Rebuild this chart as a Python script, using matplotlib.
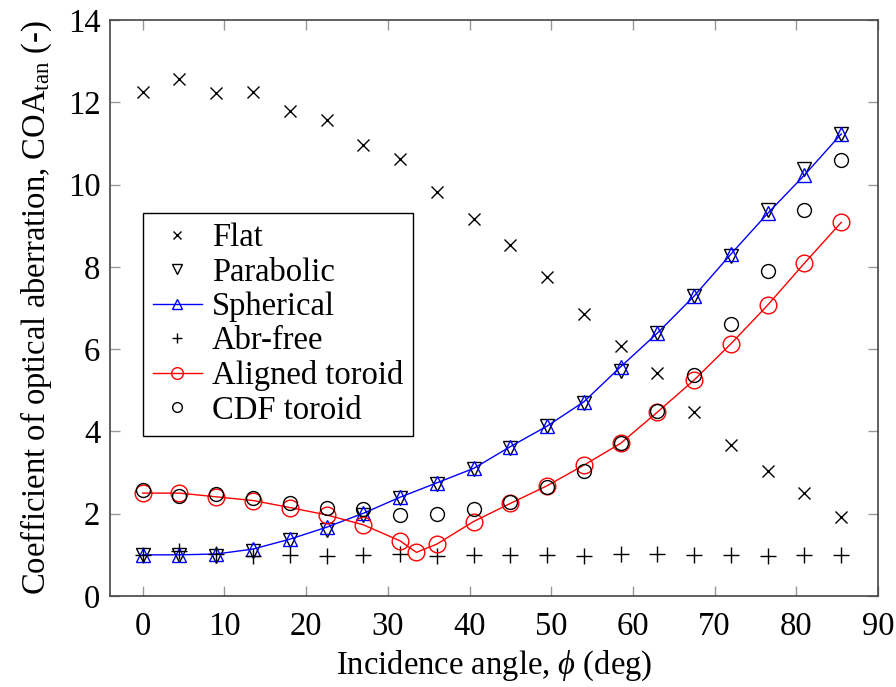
import matplotlib
matplotlib.use("Agg")
import matplotlib.pyplot as plt

plt.rcParams['font.family'] = ['Liberation Serif', 'DejaVu Serif']
plt.rcParams['mathtext.fontset'] = 'custom'
plt.rcParams['mathtext.rm'] = 'Liberation Serif'
plt.rcParams['mathtext.it'] = 'Liberation Serif:italic'

# Incidence angles (deg)
angle = [0, 4.5, 9, 13.5, 18, 22.5, 27, 31.5, 36, 40.5, 45, 49.5,
         54, 58.5, 63, 67.5, 72, 76.5, 81, 85.5]
angle_aligned = [0, 4.5, 9, 13.5, 18, 22.5, 27, 31.5, 33.5, 36, 40.5, 45,
                 49.5, 54, 58.5, 63, 67.5, 72, 76.5, 81, 85.5]

flat = [12.24, 12.56, 12.23, 12.25, 11.80, 11.57, 10.96, 10.61, 9.83, 9.16,
        8.53, 7.75, 6.85, 6.08, 5.41, 4.48, 3.67, 3.03, 2.50, 1.93]
parabolic = [1.00, 1.00, 0.98, 1.10, 1.35, 1.60, 1.97, 2.38, 2.73, 3.08,
             3.60, 4.12, 4.70, 5.47, 6.40, 7.30, 8.27, 9.37, 10.39, 11.23]
spherical = [1.00, 1.00, 1.02, 1.14, 1.38, 1.67, 2.01, 2.40, 2.75, 3.10,
             3.63, 4.13, 4.72, 5.57, 6.39, 7.29, 8.31, 9.30, 10.23, 11.23]
abr_free = [1.00, 1.10, 1.02, 0.96, 0.99, 0.96, 1.00, 1.01, 0.97, 1.00,
            1.00, 0.99, 0.96, 1.03, 1.03, 1.00, 0.99, 0.96, 1.00, 0.99]
aligned_toroid = [2.50, 2.50, 2.41, 2.32, 2.15, 1.97, 1.73, 1.34, 1.06, 1.26,
                  1.81, 2.25, 2.68, 3.18, 3.71, 4.47, 5.25, 6.13, 7.07, 8.09, 9.08]
cdf_toroid = [2.58, 2.43, 2.47, 2.37, 2.27, 2.15, 2.11, 1.97, 1.99, 2.11,
              2.28, 2.64, 3.04, 3.73, 4.50, 5.37, 6.61, 7.90, 9.38, 10.60]

xticks = [0, 10, 20, 30, 40, 50, 60, 70, 80, 90]
yticks = [0, 2, 4, 6, 8, 10, 12, 14]

fig = plt.figure(figsize=(8.96, 6.87), dpi=100)
ax = fig.add_axes([0.1228, 0.1325, 0.8571, 0.8384])

fs = 23.5
ax.plot(angle, flat, linestyle='none', marker='x', color='black',
        markersize=8, markeredgewidth=1.0, label='Flat')
ax.plot(angle, parabolic, linestyle='none', marker='v', color='black',
        markerfacecolor='none', markersize=10, markeredgewidth=1.0,
        label='Parabolic')
ax.plot(angle, spherical, linestyle='-', linewidth=1.0, marker='^',
        color='blue', markerfacecolor='none', markersize=10,
        markeredgewidth=1.0, label='Spherical')
ax.plot(angle, abr_free, linestyle='none', marker='+', color='black',
        markersize=11, markeredgewidth=1.0, label='Abr-free')
ax.plot(angle_aligned, aligned_toroid, linestyle='-', linewidth=1.0,
        marker='o', color='red', markerfacecolor='none', markersize=12,
        markeredgewidth=1.0, label='Aligned toroid')
ax.plot(angle, cdf_toroid, linestyle='none', marker='o', color='black',
        markerfacecolor='none', markersize=10, markeredgewidth=1.0,
        label='CDF toroid')

ax.set_xlim(-4, 90)
ax.set_ylim(0, 14)
ax.set_xticks(xticks)
ax.set_yticks(yticks)
ax.tick_params(direction='in', top=True, right=True, length=7, width=1,
               color='#999999', labelsize=fs)
ax.tick_params(axis='x', pad=11)
ax.tick_params(axis='y', pad=7)
for s in ax.spines.values():
    s.set_color('#444444')
    s.set_linewidth(1.2)

ax.set_xlabel(r'Incidence angle, $\phi$ (deg)', fontsize=fs, labelpad=5)
ax.set_ylabel(r'Coefficient of optical aberration, COA$_{\mathrm{tan}}$ (-)',
              fontsize=fs, labelpad=10)

leg = ax.legend(loc='upper left', bbox_to_anchor=(0.043, 0.665), fontsize=fs,
                frameon=True, fancybox=False, edgecolor='black',
                framealpha=1, markerscale=0.7, handlelength=1.5,
                handletextpad=0.3, labelspacing=0.12, borderpad=0.3,
                borderaxespad=0)
leg.get_frame().set_linewidth(1.0)

fig.savefig('out.png', dpi=100)
